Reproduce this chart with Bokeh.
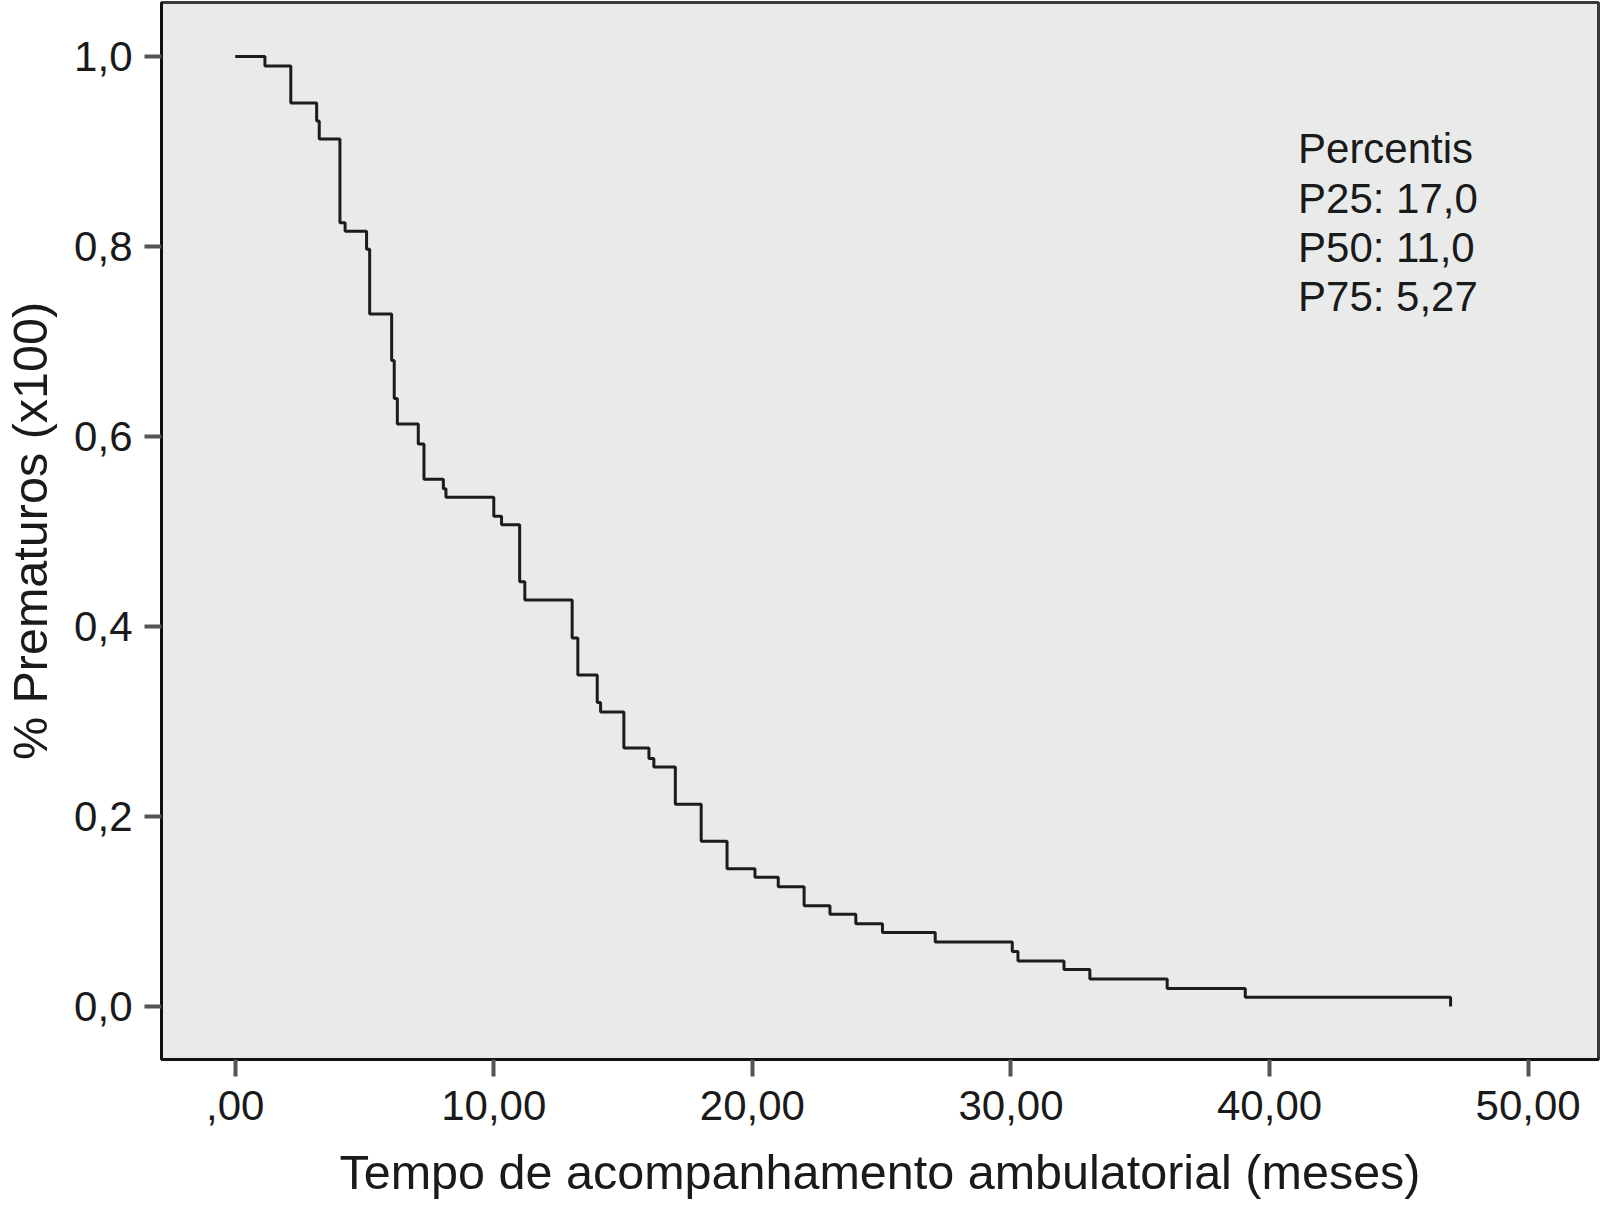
from bokeh.plotting import figure
from bokeh.models import FixedTicker, ColumnDataSource
from bokeh.core.properties import value
from bokeh.embed import file_html
from bokeh.resources import INLINE

# Kaplan-Meier step curve (time in months, survival proportion)
times = [0.0, 1.15, 2.15, 3.15, 3.25, 4.05, 4.25, 5.08, 5.2, 6.05, 6.15, 6.27,
         7.08, 7.3, 8.05, 8.15, 10.0, 10.3, 11.0, 11.2, 13.03, 13.25, 14.0, 14.13,
         15.03, 16.0, 16.19, 17.02, 18.02, 19.02, 20.1, 21.0, 22.0, 23.0, 24.0,
         25.03, 27.07, 30.05, 30.27, 32.05, 33.05, 36.04, 39.06, 47.0]
surv = [1.0, 0.99, 0.951, 0.932, 0.913, 0.825, 0.816, 0.797, 0.729, 0.68, 0.64, 0.613,
        0.592, 0.555, 0.545, 0.536, 0.516, 0.507, 0.447, 0.428, 0.388, 0.349, 0.32, 0.31,
        0.272, 0.261, 0.252, 0.213, 0.174, 0.145, 0.136, 0.126, 0.106, 0.097, 0.087,
        0.078, 0.068, 0.058, 0.048, 0.039, 0.029, 0.019, 0.0097, 0.0]

x_ticks = [0, 10, 20, 30, 40, 50]
x_tick_labels = [",00", "10,00", "20,00", "30,00", "40,00", "50,00"]
y_ticks = [0.0, 0.2, 0.4, 0.6, 0.8, 1.0]
y_tick_labels = ["0,0", "0,2", "0,4", "0,6", "0,8", "1,0"]

annot_lines = ["Percentis", "P25: 17,0", "P50: 11,0", "P75: 5,27"]

FONT = "Liberation Sans"

p = figure(width=1600, height=1214, output_backend="svg", toolbar_location=None,
           x_range=(-2.85, 52.72), y_range=(-0.0558, 1.0568),
           min_border_left=159, min_border_right=2, min_border_top=2, min_border_bottom=155)

p.background_fill_color = "#E9EBEB"
p.border_fill_color = "white"
p.outline_line_color = "#3a3a3a"
p.outline_line_width = 3
p.grid.visible = False

src = ColumnDataSource(dict(t=times, s=surv))
p.step(x="t", y="s", source=src, mode="after", line_color="#1c1c1c", line_width=3)

# axes
for ax in (p.xaxis[0], p.yaxis[0]):
    ax.axis_line_color = "#111111"
    ax.axis_line_width = 3
    ax.major_tick_line_color = "#555555"
    ax.major_tick_line_width = 4
    ax.major_tick_out = 17
    ax.major_tick_in = 0
    ax.minor_tick_line_color = None
    ax.major_label_text_font = FONT
    ax.major_label_text_font_size = "42px"
    ax.major_label_text_color = "#1a1a1a"
    ax.axis_label_text_font = FONT
    ax.axis_label_text_font_size = "48.5px"
    ax.axis_label_text_font_style = "normal"
    ax.axis_label_text_color = "#1a1a1a"

p.xaxis.ticker = FixedTicker(ticks=x_ticks)
p.xaxis.major_label_overrides = {t: l for t, l in zip(x_ticks, x_tick_labels)}
p.yaxis.ticker = FixedTicker(ticks=y_ticks)
p.yaxis.major_label_overrides = {t: l for t, l in zip(y_ticks, y_tick_labels)}
p.xaxis.major_label_standoff = 14
p.yaxis.major_label_standoff = 12
p.xaxis.axis_label = "Tempo de acompanhamento ambulatorial (meses)"
p.yaxis.axis_label = "% Prematuros (x100)"
p.xaxis.axis_label_standoff = 22
p.yaxis.axis_label_standoff = 14

# annotation block
ys = [0.903, 0.851, 0.799, 0.747]
p.text(x=[41.1] * len(annot_lines), y=ys, text=annot_lines,
       text_font=value(FONT), text_font_size="42px", text_color="#1a1a1a",
       text_baseline="alphabetic", text_align="left")

open("out.html", "w").write(file_html(p, INLINE))
